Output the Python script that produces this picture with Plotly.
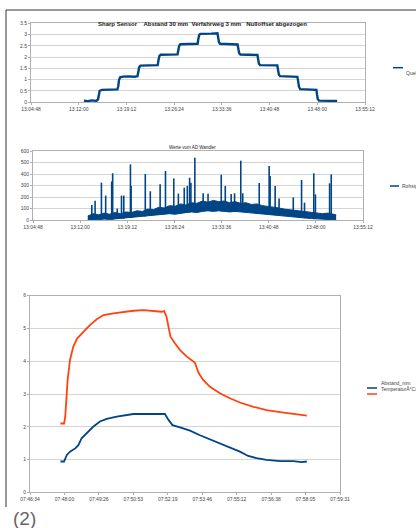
import plotly.graph_objects as go

W, H = 416, 528
BLUE = "#004586"
ORANGE = "#ff420e"
GRID = "#d4d4d4"
AX = "#b0b0b0"
TXT = "#444444"

# ---------------- Chart 1 data (seconds since midnight, value) ----------------
c1_t = [47567, 47600, 47640, 47680, 47695, 47702, 47710, 47730, 47780, 47830, 47870,
        47878, 47885, 47895, 47920, 47970, 48020, 48052, 48060, 48068, 48080, 48120,
        48170, 48235, 48242, 48250, 48262, 48300, 48350, 48415, 48422, 48430, 48440,
        48490, 48540, 48596, 48603, 48611, 48622, 48670, 48720, 48776, 48782, 48790,
        48800, 48850, 48900, 48958, 48964, 48972, 48984, 49030, 49080, 49138, 49144,
        49152, 49162, 49210, 49260, 49318, 49324, 49332, 49343, 49390, 49440, 49500,
        49506, 49514, 49525, 49570, 49620, 49672, 49677, 49685, 49696, 49760, 49810, 49860]
c1_v = [0.06, 0.04, 0.07, 0.05, 0.12, 0.35, 0.50, 0.54, 0.55, 0.53, 0.56,
        0.70, 0.98, 1.10, 1.13, 1.14, 1.12, 1.15, 1.35, 1.55, 1.62, 1.63,
        1.65, 1.64, 1.85, 2.04, 2.10, 2.11, 2.10, 2.12, 2.30, 2.50, 2.57,
        2.58, 2.56, 2.59, 2.80, 2.98, 3.03, 3.05, 3.04, 3.06, 2.90, 2.66,
        2.59, 2.58, 2.57, 2.56, 2.40, 2.18, 2.11, 2.10, 2.12, 2.09, 1.92,
        1.70, 1.64, 1.63, 1.62, 1.63, 1.45, 1.22, 1.15, 1.14, 1.13, 1.12,
        0.95, 0.68, 0.57, 0.56, 0.55, 0.54, 0.35, 0.12, 0.06, 0.05, 0.07, 0.05]
c1_name = "Quelle"
c1_title = "Sharp Sensor    Abstand 30 mm  Verfahrweg 3 mm   Nulloffset abgezogen"

time_ticks_12 = ["13:04:48", "13:12:00", "13:19:12", "13:26:24",
                 "13:33:36", "13:40:48", "13:48:00", "13:55:12"]
time_tickvals_12 = [47088, 47520, 47952, 48384, 48816, 49248, 49680, 50112]

# ---------------- Chart 2 data ----------------
c2_env_t = [47590, 47640, 47690, 47740, 47790, 47840, 47890, 47940, 47990, 48040,
            48090, 48140, 48190, 48240, 48290, 48340, 48390, 48440, 48490, 48540,
            48590, 48640, 48690, 48740, 48790, 48840, 48890, 48940, 48990, 49040,
            49090, 49140, 49190, 49240, 49290, 49340, 49390, 49440, 49490, 49540,
            49590, 49640, 49690, 49740, 49790, 49840, 49866]
c2_low = [0, 5, 2, 8, 5, 10, 12, 15, 20, 25,
          30, 35, 40, 45, 50, 55, 50, 60, 65, 70,
          65, 75, 80, 75, 80, 75, 70, 75, 70, 65,
          60, 60, 55, 50, 45, 40, 35, 30, 25, 20,
          15, 12, 10, 8, 5, 3, 0]
c2_high = [35, 55, 45, 60, 50, 65, 55, 70, 65, 80,
           75, 95, 90, 110, 105, 125, 120, 140, 130, 150,
           145, 165, 155, 170, 160, 165, 150, 160, 145, 150,
           135, 140, 125, 120, 110, 105, 95, 90, 80, 75,
           70, 65, 60, 55, 60, 50, 45]
c2_spike_t = [47627, 47657, 47715, 47754, 47809, 47818, 47860, 47899, 47920, 47981,
              47987, 48117, 48163, 48253, 48302, 48378, 48420, 48474, 48502, 48523,
              48535, 48571, 48647, 48692, 48813, 48850, 48904, 48935, 48992, 49010,
              49161, 49252, 49261, 49307, 49343, 49473, 49549, 49576, 49661, 49676,
              49806, 49821]
c2_spike_base = [5, 5, 8, 8, 5, 5, 10, 12, 12, 20,
                 20, 30, 35, 45, 50, 55, 55, 60, 65, 65,
                 70, 70, 75, 80, 75, 75, 70, 70, 70, 70,
                 60, 50, 50, 45, 40, 25, 20, 15, 10, 10,
                 5, 5]
c2_spike_peak = [130, 168, 325, 212, 335, 406, 100, 212, 212, 484,
                 296, 400, 250, 310, 426, 362, 230, 281, 296, 368,
                 325, 542, 232, 229, 394, 296, 226, 232, 516, 232,
                 322, 470, 383, 296, 186, 197, 348, 151, 406, 223,
                 319, 397]
c2_name = "Rohsignal"
c2_title = "Werte vom AD Wandler"

# ---------------- Chart 3 data ----------------
c3_temp_t = [28070, 28079, 28082, 28088, 28094, 28102, 28112, 28127, 28144, 28161,
             28178, 28203, 28228, 28253, 28278, 28303, 28324, 28330, 28336, 28341,
             28346, 28357, 28370, 28387, 28407, 28417, 28428, 28445, 28470, 28495,
             28520, 28554, 28587, 28621, 28654, 28688]
c3_temp_v = [2.10, 2.10, 2.30, 3.43, 4.04, 4.44, 4.70, 4.90, 5.10, 5.28,
             5.41, 5.46, 5.51, 5.54, 5.56, 5.53, 5.51, 5.53, 5.36, 5.05,
             4.75, 4.55, 4.34, 4.14, 3.96, 3.63, 3.43, 3.22, 3.02, 2.87,
             2.74, 2.61, 2.51, 2.45, 2.39, 2.34]
c3_dist_t = [28070, 28079, 28086, 28094, 28107, 28115, 28123, 28136, 28152, 28169,
             28186, 28211, 28236, 28253, 28286, 28311, 28332, 28341, 28351, 28370,
             28395, 28420, 28445, 28470, 28495, 28520, 28541, 28562, 28587, 28621,
             28654, 28675, 28688]
c3_dist_v = [0.94, 0.94, 1.14, 1.24, 1.34, 1.44, 1.65, 1.80, 2.00, 2.16,
             2.24, 2.31, 2.36, 2.39, 2.39, 2.38, 2.39, 2.21, 2.05, 1.98,
             1.88, 1.74, 1.62, 1.49, 1.37, 1.24, 1.11, 1.04, 0.99, 0.95,
             0.95, 0.92, 0.94]
c3_names = ["Abstand_mm", "TemperaturÂ°C/10"]
time_ticks_3 = ["07:46:34", "07:48:00", "07:49:26", "07:50:53", "07:52:19",
                "07:53:46", "07:55:12", "07:56:38", "07:58:05", "07:59:31"]
time_tickvals_3 = [27993.6, 28080.0, 28166.4, 28252.8, 28339.2,
                   28425.6, 28512.0, 28598.4, 28684.8, 28771.2]


def fx(x):
    return x / W


def fy(y):
    return 1 - y / H


fig = go.Figure()

# chart 1
fig.add_trace(go.Scatter(x=c1_t, y=c1_v, mode="lines", name=c1_name,
                         line=dict(color=BLUE, width=2.4), xaxis="x", yaxis="y",
                         showlegend=False))

# chart 2 band + spikes
fig.add_trace(go.Scatter(x=c2_env_t, y=c2_low, mode="lines", line=dict(color=BLUE, width=1),
                         xaxis="x2", yaxis="y2", showlegend=False))
fig.add_trace(go.Scatter(x=c2_env_t, y=c2_high, mode="lines", line=dict(color=BLUE, width=1),
                         fill="tonexty", fillcolor=BLUE, xaxis="x2", yaxis="y2",
                         showlegend=False))
sx, sy = [], []
for t, b, p in zip(c2_spike_t, c2_spike_base, c2_spike_peak):
    sx += [t, t, None]
    sy += [b, p, None]
fig.add_trace(go.Scatter(x=sx, y=sy, mode="lines", name=c2_name,
                         line=dict(color=BLUE, width=1.6), xaxis="x2", yaxis="y2",
                         showlegend=False))

# chart 3
fig.add_trace(go.Scatter(x=c3_dist_t, y=c3_dist_v, mode="lines", name=c3_names[0],
                         line=dict(color=BLUE, width=1.8), xaxis="x3", yaxis="y3",
                         showlegend=False))
fig.add_trace(go.Scatter(x=c3_temp_t, y=c3_temp_v, mode="lines", name=c3_names[1],
                         line=dict(color=ORANGE, width=1.8), xaxis="x3", yaxis="y3",
                         showlegend=False))

tickfont = dict(family="Liberation Sans, Arial, sans-serif", size=5, color=TXT)
axcommon = dict(showline=True, linecolor=AX, linewidth=1, mirror=True,
                ticks="outside", ticklen=2, tickcolor=AX, tickfont=tickfont,
                zeroline=False, automargin=False)

fig.update_layout(
    width=W, height=H, margin=dict(l=0, r=0, t=0, b=0, pad=0, autoexpand=False),
    autosize=False,
    paper_bgcolor="white", plot_bgcolor="white",
    xaxis=dict(domain=[fx(31), fx(365)], range=[47088, 50112], tickvals=time_tickvals_12,
               ticktext=time_ticks_12, showgrid=False, anchor="y", **axcommon),
    yaxis=dict(domain=[fy(102), fy(23.3)], range=[0, 3.5], dtick=0.5, showgrid=True,
               gridcolor=GRID, anchor="x", **axcommon),
    xaxis2=dict(domain=[fx(33), fx(363)], range=[47088, 50112], tickvals=time_tickvals_12,
                ticktext=time_ticks_12, showgrid=False, anchor="y2", **axcommon),
    yaxis2=dict(domain=[fy(220), fy(151)], range=[0, 600], dtick=100, showgrid=True,
                gridcolor=GRID, anchor="x2", **axcommon),
    xaxis3=dict(domain=[fx(30), fx(340)], range=[27993.6, 28771.2], tickvals=time_tickvals_3,
                ticktext=time_ticks_3, showgrid=False, anchor="y3", **axcommon),
    yaxis3=dict(domain=[fy(492.3), fy(295.7)], range=[0, 6], dtick=1, showgrid=True,
                gridcolor=GRID, anchor="x3", **axcommon),
)

shapes = [
    dict(type="line", xref="paper", yref="paper", x0=fx(6), x1=fx(416), y0=fy(10), y1=fy(10),
         line=dict(color="#333333", width=1)),
    dict(type="line", xref="paper", yref="paper", x0=fx(6), x1=fx(6), y0=fy(10), y1=fy(507),
         line=dict(color="#333333", width=1)),
    # legend samples
    dict(type="line", xref="paper", yref="paper", x0=fx(393), x1=fx(403), y0=fy(67.7), y1=fy(67.7),
         line=dict(color=BLUE, width=1.5)),
    dict(type="line", xref="paper", yref="paper", x0=fx(390), x1=fx(399), y0=fy(186), y1=fy(186),
         line=dict(color=BLUE, width=1.5)),
    dict(type="line", xref="paper", yref="paper", x0=fx(367), x1=fx(377), y0=fy(388), y1=fy(388),
         line=dict(color=BLUE, width=1.5)),
    dict(type="line", xref="paper", yref="paper", x0=fx(367), x1=fx(377), y0=fy(394), y1=fy(394),
         line=dict(color=ORANGE, width=1.5)),
]
fig.update_layout(shapes=shapes)

lf = dict(family="Liberation Sans, Arial, sans-serif", size=5, color=TXT)
ann = [
    dict(text="<b>" + c1_title + "</b>", x=fx(202), y=fy(19), xref="paper", yref="paper",
         showarrow=False, font=dict(family="Liberation Sans, Arial, sans-serif", size=6, color="#222")),
    dict(text=c2_title, x=fx(192), y=fy(143), xref="paper", yref="paper", showarrow=False,
         font=dict(family="Liberation Sans, Arial, sans-serif", size=4.5, color="#222")),
    dict(text=c1_name, x=fx(404), y=fy(67.7), xref="paper", yref="paper", xanchor="left",
         showarrow=False, font=lf),
    dict(text=c2_name, x=fx(400), y=fy(186), xref="paper", yref="paper", xanchor="left",
         showarrow=False, font=lf),
    dict(text=c3_names[0], x=fx(379), y=fy(388), xref="paper", yref="paper", xanchor="left",
         showarrow=False, font=lf),
    dict(text=c3_names[1], x=fx(379), y=fy(394), xref="paper", yref="paper", xanchor="left",
         showarrow=False, font=lf),
    dict(text="(2)", x=fx(11), y=fy(518), xref="paper", yref="paper", xanchor="left",
         yanchor="middle", showarrow=False,
         font=dict(family="Liberation Sans, Arial, sans-serif", size=19, color="#666666")),
]
fig.update_layout(annotations=ann)

fig.write_html(
    "out.html",
    config={"displayModeBar": False, "responsive": False},
    post_script=("document.documentElement.style.overflow='hidden';"
                 "document.body.style.margin='0';document.body.style.overflow='hidden';"
                 "var d=document.getElementById('{plot_id}');"
                 "d.style.position='fixed';d.style.left='0px';d.style.top='0px';"),
)
